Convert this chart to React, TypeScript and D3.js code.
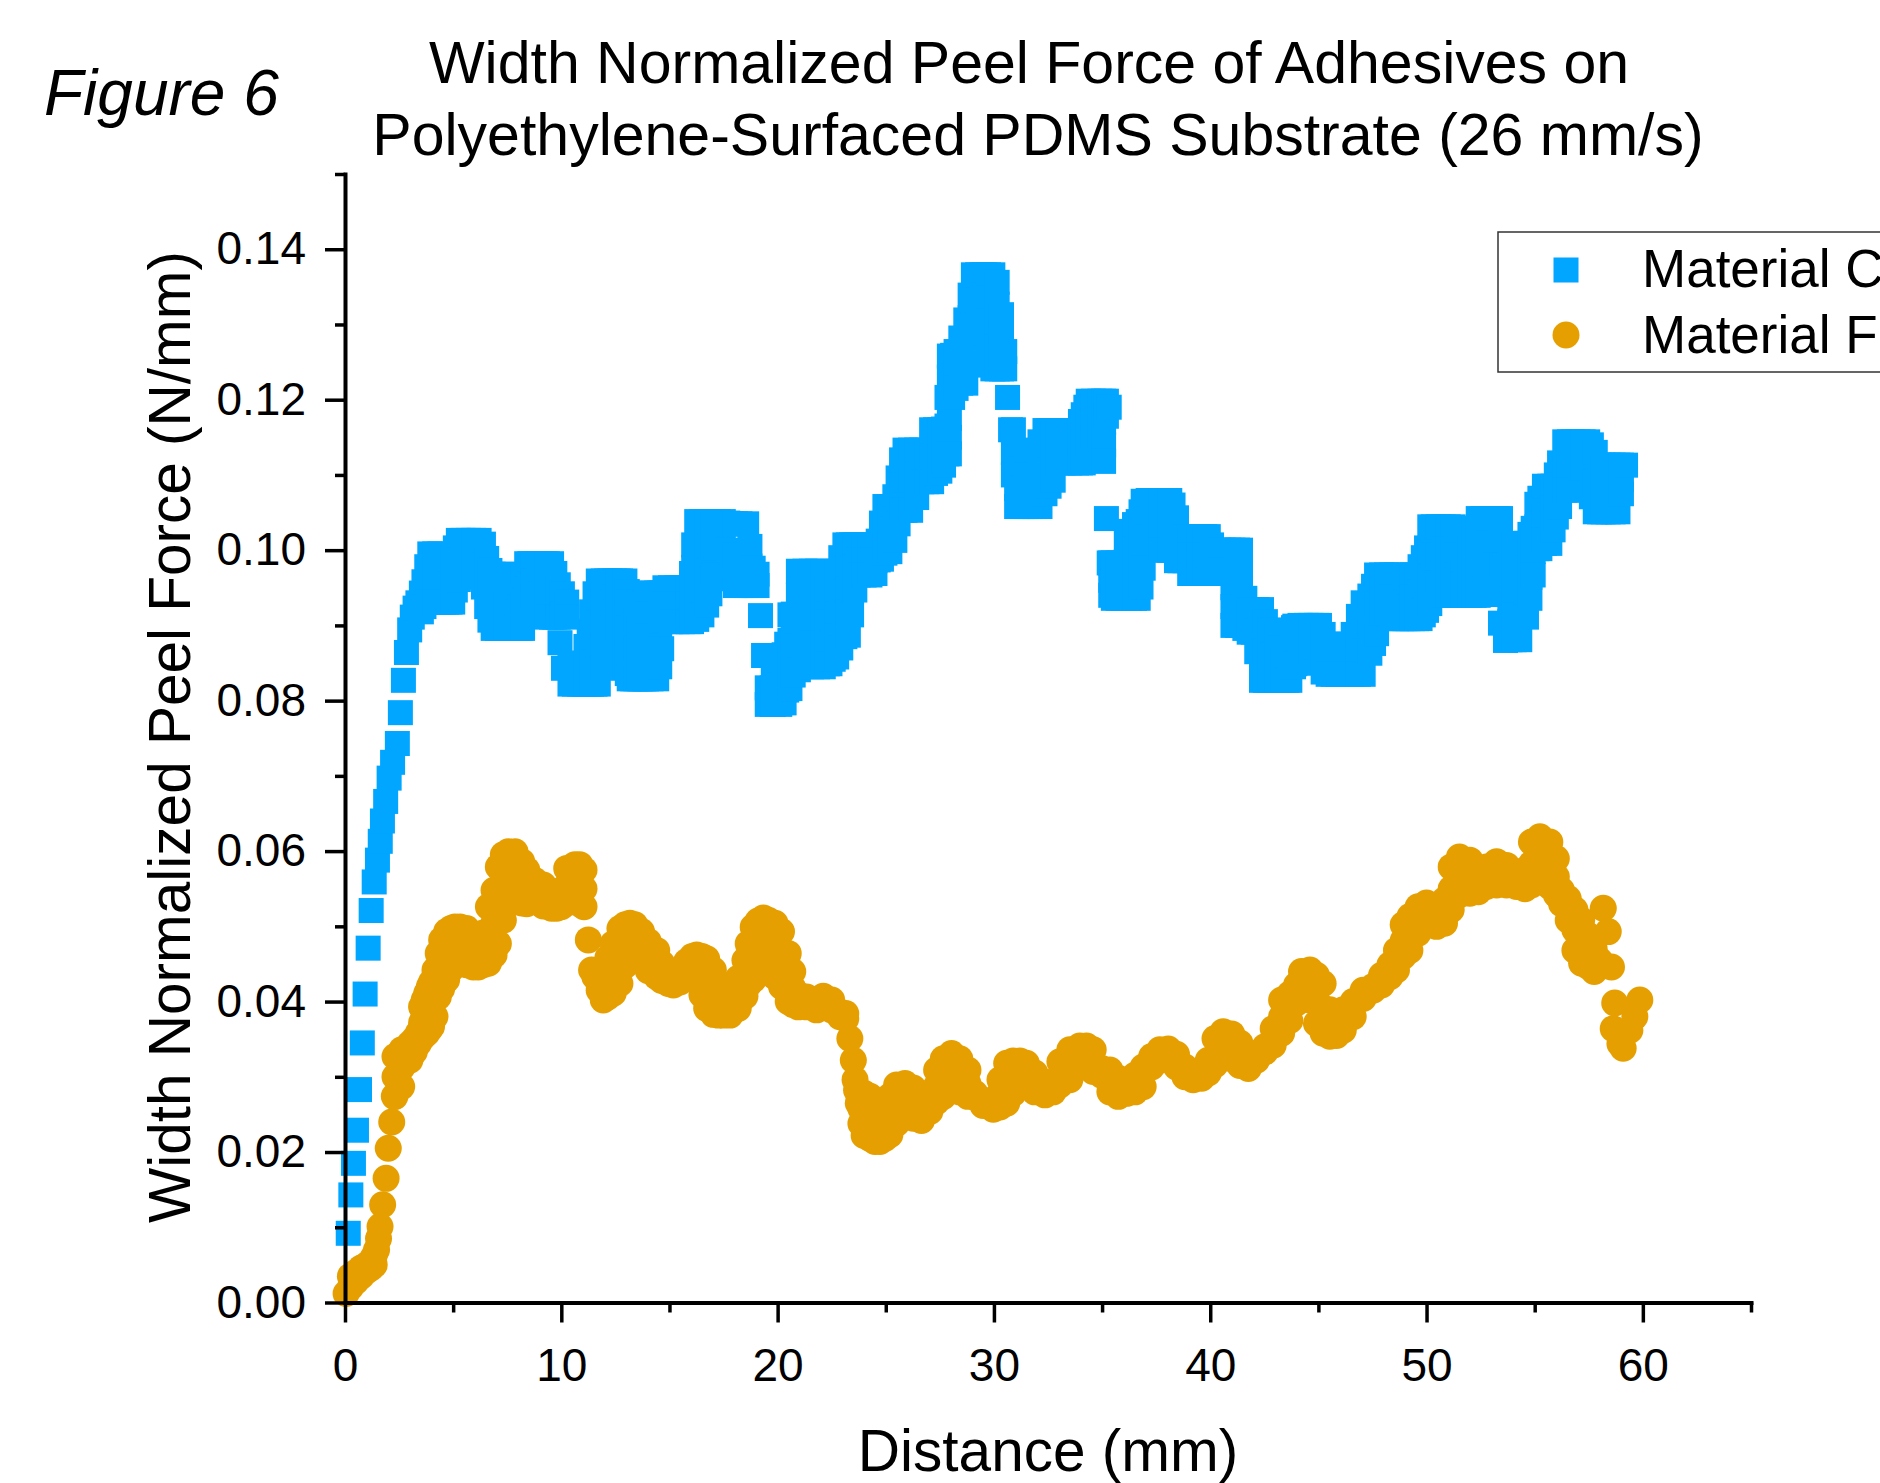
import React, { useRef, useEffect } from "react";
import * as d3 from "d3";

// each row: distance (mm), then the force readings (N/mm) seen at that distance
const materialC: number[][] = [
  [0.15, 0.0092], [0.27, 0.0143], [0.39, 0.0185], [0.53, 0.0229], [0.67, 0.0283],
  [0.8, 0.0345], [0.93, 0.041], [1.07, 0.0471], [1.21, 0.0521], [1.35, 0.0559],
  [1.5, 0.0588], [1.63, 0.0613], [1.73, 0.064], [1.88, 0.0666], [2.04, 0.0697],
  [2.2, 0.0718], [2.42, 0.0743], [2.56, 0.0784], [2.7, 0.0827], [2.84, 0.0864],
  [2.99, 0.0894], [3.11, 0.0911], [3.24, 0.0923], [3.37, 0.093],
  [3.53, 0.0943, 0.0918], [3.65, 0.0958, 0.0925], [3.78, 0.0978, 0.0931],
  [3.92, 0.0995, 0.0963, 0.0931], [4.15, 0.0995, 0.0963, 0.0931], [4.39, 0.0995, 0.0963, 0.0931],
  [4.55, 0.0985, 0.0958, 0.0931], [4.7, 0.0973, 0.0952, 0.0931], [4.85, 0.0979, 0.0955, 0.0931],
  [4.98, 0.0989, 0.096, 0.0931], [5.1, 0.1003, 0.0975, 0.0947], [5.24, 0.1013, 0.0987, 0.0961],
  [5.45, 0.1013, 0.0988, 0.0964], [5.7, 0.1013, 0.0989, 0.0965], [5.95, 0.1013, 0.0989, 0.0965],
  [6.2, 0.1013, 0.0989, 0.0965], [6.4, 0.1008, 0.098, 0.0951], [6.55, 0.0989, 0.0957, 0.0925],
  [6.7, 0.0973, 0.094, 0.0907], [6.85, 0.0968, 0.0944, 0.092, 0.0896],
  [7.05, 0.0968, 0.0944, 0.092, 0.0896], [7.27, 0.0968, 0.0944, 0.092, 0.0896],
  [7.44, 0.0928, 0.0912, 0.0896], [7.6, 0.0937, 0.0916, 0.0896], [7.94, 0.0941, 0.0918, 0.0896],
  [8.1, 0.0955, 0.0925, 0.0896], [8.21, 0.0968, 0.0932, 0.0896], [8.4, 0.0982, 0.0948, 0.0914],
  [8.55, 0.0982, 0.0955, 0.0929], [8.71, 0.0982, 0.0959, 0.0936], [9.01, 0.0982, 0.0962, 0.0942],
  [9.2, 0.0982, 0.096, 0.0938], [9.35, 0.0982, 0.0958, 0.0934, 0.0911],
  [9.55, 0.0982, 0.0958, 0.0934, 0.0911], [9.7, 0.0969, 0.094, 0.0911], [9.86, 0.0954, 0.093, 0.0911],
  [9.94, 0.0877], [10.05, 0.0942, 0.0915], [10.1, 0.0843], [10.25, 0.0931, 0.0911],
  [10.4, 0.0847, 0.0822], [10.6, 0.0847, 0.0822], [10.85, 0.0847, 0.0822], [11.0, 0.085, 0.0822],
  [11.14, 0.0872, 0.0847, 0.0822], [11.29, 0.0892, 0.0857, 0.0822],
  [11.4, 0.0918, 0.0885, 0.0852, 0.0822], [11.56, 0.0942, 0.0912, 0.0882, 0.0852, 0.0822],
  [11.71, 0.0959, 0.0931, 0.0903, 0.0875, 0.0848, 0.0822],
  [11.94, 0.0959, 0.093, 0.0901, 0.0872, 0.0843], [12.1, 0.0959, 0.0926, 0.0892, 0.0858],
  [12.25, 0.0959, 0.0931, 0.0903, 0.0874], [12.48, 0.0959, 0.0938, 0.0918],
  [12.62, 0.0959, 0.0927, 0.0894], [12.74, 0.0959, 0.093, 0.0901, 0.0874],
  [12.94, 0.0959, 0.093, 0.0901, 0.0872, 0.0849], [13.05, 0.0945, 0.0918, 0.089, 0.0863, 0.0836],
  [13.14, 0.0931, 0.0897, 0.0863, 0.0829], [13.3, 0.0923, 0.0892, 0.086, 0.0829],
  [13.45, 0.091, 0.087, 0.0829], [13.6, 0.0894, 0.0862, 0.0829], [13.68, 0.0899, 0.0864, 0.0829],
  [13.82, 0.0928, 0.0895, 0.0862, 0.0829], [13.94, 0.0943, 0.0915, 0.0886, 0.0858, 0.0829],
  [14.15, 0.0943, 0.0915, 0.0886, 0.0858, 0.0829], [14.41, 0.0943, 0.0915, 0.0886, 0.0858, 0.0829],
  [14.55, 0.0943, 0.091, 0.0878, 0.0845], [14.64, 0.0943, 0.0906, 0.0869],
  [14.79, 0.095, 0.0928, 0.0907], [15.05, 0.095, 0.0928, 0.0905], [15.35, 0.095, 0.0928, 0.0905],
  [15.6, 0.095, 0.0928, 0.0905], [15.87, 0.095, 0.0928, 0.0905], [16.02, 0.0969, 0.0937, 0.0905],
  [16.12, 0.1007, 0.0977, 0.0947, 0.0914], [16.26, 0.1038, 0.1006, 0.0974, 0.0941, 0.0908],
  [16.5, 0.1038, 0.1006, 0.0974, 0.0941, 0.0914], [16.72, 0.1038, 0.101, 0.0982, 0.0955, 0.0927],
  [16.87, 0.1038, 0.1005, 0.0973, 0.0942], [17.0, 0.1038, 0.1003, 0.0967],
  [17.25, 0.1038, 0.1003, 0.0967], [17.49, 0.1038, 0.1003, 0.0967], [17.7, 0.1036, 0.1, 0.0965],
  [17.87, 0.1035, 0.0998, 0.0962], [18.05, 0.1035, 0.0994, 0.0953], [18.26, 0.1035, 0.0994, 0.0953],
  [18.57, 0.1035, 0.0994, 0.0953], [18.72, 0.1005, 0.0979, 0.0953], [18.87, 0.0976, 0.0953],
  [19.05, 0.0968, 0.0953], [19.21, 0.0913], [19.35, 0.086],
  [19.52, 0.0817, 0.0795], [19.75, 0.0817, 0.0795], [19.8, 0.0834, 0.081, 0.0795],
  [20.1, 0.0848, 0.0821, 0.0795], [20.3, 0.0861, 0.0828, 0.0797], [20.42, 0.0875, 0.0845, 0.0814],
  [20.57, 0.0914, 0.088, 0.0848, 0.0816], [20.72, 0.0915, 0.0888, 0.0861, 0.0834],
  [20.96, 0.0972, 0.094, 0.0906, 0.0872, 0.0841], [21.26, 0.0972, 0.0944, 0.0917, 0.089, 0.0863],
  [21.57, 0.0972, 0.094, 0.0908, 0.0876, 0.0845], [21.85, 0.0972, 0.094, 0.0908, 0.0876, 0.0845],
  [22.11, 0.0972, 0.094, 0.0908, 0.0876, 0.0845], [22.3, 0.0947, 0.0915, 0.0882, 0.0849],
  [22.42, 0.0905, 0.0877, 0.0849], [22.57, 0.094, 0.0912, 0.0884, 0.0855],
  [22.73, 0.0972, 0.0943, 0.0915, 0.0886, 0.0858], [22.92, 0.099, 0.096, 0.093, 0.09, 0.087],
  [23.11, 0.1007, 0.0976, 0.0945, 0.0915, 0.0885], [23.27, 0.1007, 0.0978, 0.0948, 0.0918, 0.0887],
  [23.42, 0.1007, 0.0976, 0.0945, 0.0914], [23.57, 0.1007, 0.0977, 0.0947],
  [23.73, 0.1007, 0.0987, 0.0967], [24.0, 0.1007, 0.0987, 0.0967], [24.27, 0.1007, 0.0987, 0.0967],
  [24.5, 0.1003, 0.0986, 0.0969], [24.65, 0.1012, 0.0987], [24.8, 0.1036, 0.1012, 0.0988],
  [24.96, 0.1058, 0.1027, 0.0996], [25.19, 0.1058, 0.1028, 0.0998], [25.42, 0.1071, 0.1042, 0.1013],
  [25.57, 0.1096, 0.1065, 0.1035], [25.73, 0.112, 0.1086, 0.1053], [25.89, 0.1133, 0.1093, 0.1053],
  [26.15, 0.1133, 0.1093, 0.1053], [26.43, 0.1133, 0.1101, 0.107], [26.66, 0.1133, 0.1112, 0.1091],
  [26.9, 0.113, 0.111, 0.1091], [27.12, 0.116, 0.1125, 0.1091], [27.3, 0.116, 0.1131, 0.1102],
  [27.5, 0.116, 0.1131, 0.1105], [27.67, 0.1161, 0.1137, 0.1113], [27.83, 0.1203, 0.1165, 0.1128],
  [27.94, 0.1258, 0.123, 0.1203, 0.1175, 0.115, 0.1128], [28.09, 0.1259, 0.1231, 0.1203],
  [28.25, 0.1264, 0.124, 0.1215], [28.47, 0.1282, 0.1252, 0.1222],
  [28.7, 0.1306, 0.1278, 0.125, 0.1222], [28.9, 0.1339, 0.1309, 0.1278, 0.1246],
  [29.05, 0.1366, 0.1332, 0.1298, 0.1264], [29.25, 0.1366, 0.1332, 0.1298, 0.1264],
  [29.45, 0.1366, 0.1335, 0.1304, 0.1272], [29.58, 0.1366, 0.1339, 0.1313, 0.1285, 0.1256],
  [29.75, 0.1366, 0.1335, 0.1305, 0.1275, 0.125], [29.95, 0.1366, 0.1335, 0.1303, 0.1272, 0.1241],
  [30.15, 0.1356, 0.1327, 0.1298, 0.127, 0.1241], [30.35, 0.1313, 0.1289, 0.1265, 0.1241],
  [30.5, 0.1264, 0.1241], [30.63, 0.1203], [30.77, 0.116], [30.9, 0.116, 0.113, 0.11],
  [31.05, 0.1131, 0.1106, 0.1082, 0.1058], [31.3, 0.1133, 0.1108, 0.1083, 0.1058],
  [31.5, 0.112, 0.11, 0.1079, 0.1058], [31.66, 0.11, 0.1079, 0.1058], [31.89, 0.1098, 0.1078, 0.1058],
  [32.13, 0.1144, 0.1115, 0.1086, 0.1058], [32.36, 0.1159, 0.1131, 0.1103, 0.1075],
  [32.55, 0.1159, 0.1133, 0.1107, 0.1085], [32.74, 0.1159, 0.1126, 0.1093],
  [32.95, 0.1159, 0.1137, 0.1116], [33.2, 0.1159, 0.1137, 0.1116], [33.5, 0.1159, 0.1137, 0.1116],
  [33.82, 0.1159, 0.1137, 0.1116], [34.0, 0.1171, 0.1143, 0.1116], [34.13, 0.118, 0.1148, 0.1116],
  [34.25, 0.119, 0.1159, 0.1128], [34.36, 0.1198, 0.117, 0.1143], [34.6, 0.1198, 0.1175, 0.1151],
  [34.9, 0.1198, 0.1175, 0.1151], [35.07, 0.1198, 0.117, 0.114, 0.1118], [35.2, 0.1198, 0.1178, 0.1042],
  [35.33, 0.119, 0.0983], [35.4, 0.0983, 0.096, 0.094], [35.52, 0.0983, 0.096, 0.0936],
  [35.75, 0.0983, 0.096, 0.0936], [35.98, 0.0976, 0.0956, 0.0936],
  [36.12, 0.1009, 0.0985, 0.096, 0.0936], [36.3, 0.1025, 0.0995, 0.0965, 0.0936],
  [36.5, 0.1034, 0.1001, 0.0968, 0.0936], [36.67, 0.1038, 0.1004, 0.097, 0.0936],
  [36.8, 0.1051, 0.1018, 0.0985, 0.0951], [36.9, 0.1065, 0.1036, 0.1006, 0.0976],
  [37.13, 0.1066, 0.1042, 0.1018], [37.35, 0.1066, 0.1044, 0.1022], [37.52, 0.1066, 0.1044, 0.1022],
  [37.72, 0.1066, 0.1033, 0.1], [37.95, 0.1066, 0.1033, 0.1], [38.13, 0.1066, 0.1033, 0.1],
  [38.28, 0.106, 0.103, 0.1], [38.44, 0.1043, 0.1015, 0.0986], [38.6, 0.1016, 0.0986],
  [38.83, 0.1018, 0.0986], [39.05, 0.1018, 0.0993, 0.0969], [39.21, 0.1018, 0.0993, 0.0969],
  [39.5, 0.1018, 0.0993, 0.0969], [39.75, 0.1018, 0.0993, 0.0969], [39.91, 0.1018, 0.0993, 0.0969],
  [40.06, 0.1007, 0.0988, 0.0969], [40.22, 0.0994, 0.0969], [40.4, 0.1, 0.0973],
  [40.6, 0.1, 0.0973], [40.85, 0.1, 0.0973], [41.05, 0.1, 0.0973, 0.095, 0.0925, 0.09],
  [41.26, 0.1, 0.0975, 0.095, 0.0925, 0.09], [41.4, 0.1, 0.0975, 0.095, 0.0925, 0.09],
  [41.6, 0.0936, 0.0916, 0.0896], [41.8, 0.0921, 0.0906, 0.0891], [41.99, 0.0921, 0.0891],
  [42.15, 0.0921, 0.0893, 0.0865], [42.37, 0.0921, 0.0889, 0.0858, 0.0827],
  [42.55, 0.0905, 0.0866, 0.0827], [42.76, 0.0894, 0.086, 0.0827], [43.07, 0.0888, 0.0857, 0.0827],
  [43.25, 0.087, 0.0848, 0.0827], [43.37, 0.0857, 0.0827], [43.55, 0.0861, 0.0827],
  [43.68, 0.0865, 0.0846, 0.0827], [43.85, 0.0897, 0.087, 0.0845], [43.91, 0.0899, 0.0874, 0.0849],
  [44.15, 0.09, 0.0875, 0.085], [44.45, 0.09, 0.0875, 0.085], [44.65, 0.09, 0.0881, 0.0863],
  [44.91, 0.09, 0.0886, 0.0871], [45.05, 0.09, 0.0879, 0.0858], [45.22, 0.0888, 0.0863, 0.0838],
  [45.45, 0.0875, 0.0855, 0.0835], [45.68, 0.0875, 0.0855, 0.0835], [45.92, 0.0875, 0.0855, 0.0835],
  [46.15, 0.085, 0.0835], [46.3, 0.0863, 0.0835], [46.61, 0.0888, 0.0861, 0.0835],
  [46.85, 0.0912, 0.0886, 0.0861, 0.0835], [47.07, 0.093, 0.0898, 0.0866, 0.0835],
  [47.38, 0.0939, 0.0901, 0.0863], [47.55, 0.0952, 0.0914, 0.0876], [47.69, 0.0967, 0.0928, 0.0889],
  [47.92, 0.0967, 0.0941, 0.0916], [48.15, 0.0967, 0.0944, 0.092], [48.4, 0.0967, 0.0938, 0.0909],
  [48.61, 0.0967, 0.0938, 0.0909], [48.85, 0.0967, 0.0938, 0.0909], [49.0, 0.0954, 0.0931, 0.0909],
  [49.15, 0.0941, 0.0925, 0.0909], [49.35, 0.0967, 0.0938, 0.0909], [49.54, 0.0967, 0.0938, 0.0909],
  [49.7, 0.0978, 0.0943, 0.0909], [49.85, 0.099, 0.0952, 0.0914], [50.0, 0.1003, 0.0961, 0.092],
  [50.15, 0.1031, 0.0997, 0.0963, 0.0929], [50.31, 0.1031, 0.0994, 0.0956],
  [50.55, 0.1031, 0.0994, 0.0956], [50.77, 0.1031, 0.1001, 0.097, 0.094],
  [51.0, 0.1031, 0.1001, 0.097, 0.094], [51.23, 0.1031, 0.1001, 0.097, 0.094],
  [51.4, 0.102, 0.0993, 0.0967, 0.094], [51.55, 0.0989, 0.0965, 0.094], [51.7, 0.0971, 0.0955, 0.094],
  [51.85, 0.0989, 0.0965, 0.094], [52.0, 0.1005, 0.0972, 0.094], [52.2, 0.1029, 0.0999, 0.097, 0.094],
  [52.39, 0.1042, 0.1008, 0.0974, 0.094], [52.6, 0.1042, 0.1008, 0.0974, 0.0942],
  [52.8, 0.1042, 0.101, 0.0978, 0.0947], [53.0, 0.1042, 0.101], [53.15, 0.1042, 0.101, 0.098],
  [53.3, 0.1042, 0.0941], [53.42, 0.1042, 0.0903], [53.48, 0.098], [53.65, 0.088],
  [53.85, 0.0995, 0.0965, 0.0935, 0.0905, 0.0881], [54.05, 0.1009, 0.0978, 0.0946, 0.0914, 0.0881],
  [54.31, 0.1009, 0.0978, 0.0946, 0.0914, 0.0881], [54.62, 0.1009, 0.0976, 0.0944, 0.0911],
  [54.78, 0.1021, 0.0993, 0.0964, 0.0936], [54.93, 0.1029, 0.0998, 0.0967],
  [55.1, 0.1061, 0.1031, 0.1002], [55.24, 0.1069, 0.1035, 0.1002], [55.45, 0.1085, 0.1047, 0.1009],
  [55.7, 0.1085, 0.1047, 0.1009], [55.85, 0.1085, 0.1056, 0.1027], [56.0, 0.11, 0.1072, 0.1044],
  [56.15, 0.1116, 0.1087, 0.1058], [56.39, 0.1144, 0.1112, 0.108], [56.6, 0.1144, 0.1112, 0.108],
  [56.78, 0.1144, 0.1112, 0.108], [57.0, 0.1144, 0.1112, 0.108], [57.24, 0.1144, 0.1127, 0.1109],
  [57.45, 0.1144, 0.1127, 0.1109], [57.62, 0.114, 0.1105, 0.1071], [57.8, 0.113, 0.109, 0.1051],
  [58.0, 0.1113, 0.1082, 0.1051], [58.16, 0.1113, 0.1082, 0.1051], [58.4, 0.1113, 0.1082, 0.1051],
  [58.63, 0.1113, 0.1082, 0.1051], [58.85, 0.1113, 0.1082, 0.1051], [59.01, 0.1113, 0.1094, 0.1075],
  [59.2, 0.1113],
];

const materialF: number[][] = [
  [0.05, 0.0012], [0.25, 0.002, 0.0035], [0.5, 0.0028, 0.004], [0.75, 0.0035, 0.0046],
  [1.0, 0.0042, 0.005], [1.2, 0.0046, 0.0055], [1.35, 0.005, 0.0062], [1.46, 0.007],
  [1.55, 0.0085], [1.62, 0.0101], [1.74, 0.013], [1.9, 0.0165], [2.0, 0.0205], [2.16, 0.024],
  [2.28, 0.0274], [2.31, 0.0327, 0.03, 0.0274], [2.62, 0.0336, 0.0312, 0.0287], [3.0, 0.0344, 0.0322],
  [3.2, 0.035, 0.0333], [3.39, 0.0358, 0.0344], [3.54, 0.0393, 0.0372, 0.0351],
  [3.66, 0.0402, 0.038, 0.0355], [3.78, 0.0411, 0.0384, 0.0358], [3.9, 0.042, 0.0392, 0.0363],
  [4.0, 0.0426, 0.0396, 0.0367], [4.16, 0.0442, 0.0411, 0.038], [4.31, 0.0464, 0.0435, 0.0406],
  [4.47, 0.0482, 0.045, 0.0417], [4.7, 0.0493, 0.0461, 0.0429], [4.9, 0.0497, 0.047, 0.0443],
  [5.08, 0.0499, 0.0475, 0.0451], [5.32, 0.0499, 0.0477, 0.0455], [5.62, 0.0497, 0.0473, 0.0449],
  [5.93, 0.0482, 0.0464, 0.0446], [6.16, 0.0462, 0.0446], [6.39, 0.0491, 0.047, 0.0449],
  [6.63, 0.0526, 0.0489, 0.0451], [6.89, 0.0548, 0.0505, 0.0462], [7.09, 0.0579, 0.0546, 0.0512, 0.0477],
  [7.32, 0.0595, 0.0552, 0.0508], [7.55, 0.0599, 0.0565, 0.053], [7.86, 0.0599, 0.0566, 0.0533],
  [8.17, 0.0586, 0.0558, 0.0531], [8.4, 0.0575, 0.0552, 0.053], [8.78, 0.0561, 0.0547, 0.0533],
  [9.17, 0.0555, 0.0527], [9.55, 0.0535, 0.0524], [9.78, 0.0531, 0.0524], [10.0, 0.0548, 0.0526],
  [10.25, 0.0577, 0.0554, 0.0531], [10.63, 0.0582, 0.0557, 0.0533], [10.85, 0.0582, 0.0555, 0.053],
  [11.05, 0.0575, 0.055, 0.0526], [11.25, 0.0482], [11.4, 0.0442], [11.55, 0.0433], [11.75, 0.0415],
  [11.94, 0.0437, 0.0402], [12.15, 0.0458, 0.0432, 0.0406], [12.4, 0.0477, 0.0444, 0.0411],
  [12.71, 0.0497, 0.046, 0.0424], [12.95, 0.0502, 0.0474, 0.0448], [13.17, 0.0504, 0.0477],
  [13.4, 0.0502, 0.0479], [13.71, 0.0493, 0.0455], [14.02, 0.048, 0.0441], [14.41, 0.0468, 0.0433],
  [14.64, 0.0451, 0.0428], [14.95, 0.0431, 0.0424], [15.18, 0.0426, 0.0422], [15.49, 0.0433, 0.0426],
  [15.79, 0.0453, 0.0433], [16.05, 0.046, 0.0438], [16.26, 0.0462, 0.044],
  [16.5, 0.046, 0.0435, 0.0409], [16.72, 0.0457, 0.0424, 0.0391], [17.03, 0.0442, 0.0412, 0.0383],
  [17.26, 0.0415, 0.0382], [17.49, 0.0397, 0.0382], [17.8, 0.0422, 0.0402, 0.0382],
  [18.18, 0.0431, 0.0411, 0.0391], [18.49, 0.0455, 0.0431, 0.0407], [18.64, 0.0477, 0.045, 0.0422],
  [18.87, 0.0499, 0.0464, 0.0429], [19.1, 0.0507, 0.0472, 0.0437], [19.34, 0.0511, 0.0477, 0.0442],
  [19.57, 0.0508, 0.048, 0.0451], [19.88, 0.0504, 0.0469, 0.0433], [20.18, 0.0493, 0.0457, 0.042],
  [20.49, 0.0464, 0.0432, 0.04], [20.7, 0.044, 0.0418, 0.0396], [20.96, 0.0409, 0.0393],
  [21.34, 0.0406, 0.0393], [21.8, 0.0402, 0.0389], [22.11, 0.0407, 0.0393], [22.5, 0.0402, 0.0389],
  [22.88, 0.0386, 0.038], [23.15, 0.0384, 0.0377], [23.34, 0.0351], [23.5, 0.0322], [23.58, 0.0296],
  [23.65, 0.0282], [23.73, 0.0265], [23.85, 0.0278, 0.0258, 0.0238], [24.0, 0.0278, 0.025, 0.0222],
  [24.27, 0.0274, 0.0245, 0.0218], [24.5, 0.0268, 0.024, 0.0214], [24.73, 0.0258, 0.0236, 0.0214],
  [24.96, 0.0249, 0.0233, 0.0218], [25.19, 0.0274, 0.0248, 0.0223], [25.5, 0.0289, 0.0263, 0.0238],
  [25.89, 0.0291, 0.0271, 0.0251], [26.27, 0.0285, 0.0265, 0.0245], [26.65, 0.0262, 0.0242],
  [27.04, 0.0278, 0.0254], [27.35, 0.0309, 0.0288, 0.0267], [27.66, 0.0324, 0.0299, 0.0274],
  [28.04, 0.0331, 0.0312, 0.0293], [28.42, 0.0324, 0.0302, 0.028], [28.8, 0.0309, 0.0291, 0.0274],
  [29.12, 0.0278, 0.0273], [29.5, 0.0269, 0.0262], [29.97, 0.0265, 0.0257],
  [30.28, 0.0296, 0.0278, 0.026], [30.59, 0.0318, 0.0291, 0.0265], [30.89, 0.0321, 0.0299, 0.0278],
  [31.2, 0.0321, 0.0304], [31.5, 0.0318, 0.0298], [31.89, 0.0305, 0.028], [32.36, 0.0293, 0.0276],
  [32.74, 0.0287, 0.028], [33.05, 0.032, 0.0289], [33.51, 0.0336, 0.0316, 0.0296],
  [33.97, 0.0341, 0.0318], [34.28, 0.0341, 0.032], [34.59, 0.0336, 0.0307], [34.98, 0.0311, 0.0302],
  [35.36, 0.0309, 0.028], [35.75, 0.0298, 0.0274], [36.13, 0.0282, 0.0278], [36.52, 0.0302, 0.028],
  [36.9, 0.0313, 0.0287], [37.29, 0.0327, 0.0313], [37.67, 0.0336, 0.0322], [38.06, 0.0337, 0.0324],
  [38.44, 0.033, 0.0313], [38.83, 0.0313, 0.03], [39.21, 0.0302, 0.0296], [39.6, 0.0309, 0.0298],
  [39.91, 0.0322, 0.0305], [40.22, 0.0351, 0.0316], [40.6, 0.036, 0.0327], [40.99, 0.0357, 0.0324],
  [41.37, 0.0345, 0.0315], [41.76, 0.0327, 0.0311], [42.14, 0.0331, 0.0322], [42.53, 0.034, 0.0333],
  [42.91, 0.0364, 0.0342], [43.3, 0.0402, 0.038, 0.0358], [43.68, 0.041, 0.0392, 0.0375],
  [43.99, 0.0422, 0.0398], [44.22, 0.044, 0.0407], [44.61, 0.0442, 0.0402],
  [44.91, 0.0435, 0.0403, 0.0371], [45.22, 0.0424, 0.0391, 0.0358], [45.53, 0.0389, 0.0354],
  [45.84, 0.0375, 0.0355], [46.15, 0.0389, 0.0362], [46.61, 0.04, 0.038], [47.07, 0.0415, 0.0404],
  [47.53, 0.042, 0.0415], [47.92, 0.0435, 0.0422], [48.31, 0.0449, 0.0433], [48.61, 0.0468, 0.0442],
  [48.92, 0.0502, 0.0481, 0.046], [49.23, 0.0513, 0.049, 0.0468], [49.61, 0.0526, 0.0491],
  [50.0, 0.0531, 0.0508], [50.46, 0.0528, 0.05], [50.83, 0.0535, 0.0504],
  [51.14, 0.0579, 0.055, 0.0522], [51.52, 0.0592, 0.0567, 0.0542], [52.0, 0.0588, 0.0566, 0.0544],
  [52.39, 0.0561, 0.0546], [52.77, 0.0579, 0.0553], [53.24, 0.0586, 0.0555], [53.7, 0.0581, 0.0555],
  [54.16, 0.0568, 0.0553], [54.55, 0.0575, 0.055], [54.85, 0.0612, 0.0583, 0.0555],
  [55.24, 0.0619, 0.0592, 0.0566], [55.7, 0.0612, 0.0582, 0.0553], [56.0, 0.059, 0.0566, 0.0542],
  [56.24, 0.0548, 0.053], [56.55, 0.0537, 0.0508], [56.86, 0.0522, 0.0495, 0.0468],
  [57.17, 0.0508, 0.048, 0.0451], [57.47, 0.0488, 0.0467, 0.0447], [57.75, 0.047, 0.044],
  [58.0, 0.0455], [58.17, 0.0524], [58.4, 0.0493], [58.55, 0.0446], [58.63, 0.0364], [58.7, 0.0398],
  [58.94, 0.0344], [59.09, 0.0338], [59.4, 0.0362], [59.63, 0.038], [59.86, 0.0402],
];

const xMajorTicks = [0, 10, 20, 30, 40, 50, 60];
const xMinorTicks = [5, 15, 25, 35, 45, 55, 65];
const yMajorTicks = [0, 0.02, 0.04, 0.06, 0.08, 0.1, 0.12, 0.14];
const yMinorTicks = [0.01, 0.03, 0.05, 0.07, 0.09, 0.11, 0.13, 0.15];
const seriesNames = ["Material C", "Material F"];
const seriesColors = ["#00a6ff", "#e69f00"];
const titleLines = [
  "Width Normalized Peel Force of Adhesives on",
  "Polyethylene-Surfaced PDMS Substrate (26 mm/s)",
];

const FONT = "'Liberation Sans', Arial, Helvetica, sans-serif";

function toPoints(rows: number[][]) {
  return rows.flatMap(([d, ...vs]) => vs.map((v) => [d, v]));
}

function App() {
  const chart = useRef<SVGSVGElement>(null);

  useEffect(() => {
    const svg = d3.select(chart.current);
    svg.selectAll("*").remove();

    const x = d3.scaleLinear().domain([0, 65]).range([345, 1751]);
    const y = d3.scaleLinear().domain([0, 0.15]).range([1302.5, 174]);

    svg.append("rect").attr("width", 1880).attr("height", 1483).attr("fill", "white");

    // Material C squares first, Material F circles on top
    svg
      .append("g")
      .selectAll("rect")
      .data(toPoints(materialC))
      .join("rect")
      .attr("x", (d) => x(d[0]) - 12.5)
      .attr("y", (d) => y(d[1]) - 12.5)
      .attr("width", 25)
      .attr("height", 25)
      .attr("fill", seriesColors[0]);

    svg
      .append("g")
      .selectAll("circle")
      .data(toPoints(materialF))
      .join("circle")
      .attr("cx", (d) => x(d[0]))
      .attr("cy", (d) => y(d[1]))
      .attr("r", 13.5)
      .attr("fill", seriesColors[1]);

    const styleAxis = (g) => {
      g.attr("font-family", FONT).attr("font-size", 46);
      g.select(".domain").attr("stroke-width", 4).attr("stroke-linecap", "square");
      g.selectAll(".tick line").attr("stroke-width", 3.5);
      g.selectAll(".tick text").attr("fill", "#000");
    };

    // y axis
    svg
      .append("g")
      .attr("transform", "translate(345,0)")
      .call(d3.axisLeft(y).tickValues(yMinorTicks).tickSize(10).tickSizeOuter(0).tickFormat(() => ""))
      .call((g) => g.select(".domain").remove())
      .call(styleAxis);
    svg
      .append("g")
      .attr("transform", "translate(345,0)")
      .call(
        d3.axisLeft(y).tickValues(yMajorTicks).tickSize(20).tickSizeOuter(0).tickPadding(19)
          .tickFormat(d3.format(".2f"))
      )
      .call(styleAxis);

    // x axis
    svg
      .append("g")
      .attr("transform", "translate(0,1302.5)")
      .call(d3.axisBottom(x).tickValues(xMinorTicks).tickSize(10).tickSizeOuter(0).tickFormat(() => ""))
      .call((g) => g.select(".domain").remove())
      .call(styleAxis);
    svg
      .append("g")
      .attr("transform", "translate(0,1302.5)")
      .call(d3.axisBottom(x).tickValues(xMajorTicks).tickSize(20).tickSizeOuter(0).tickPadding(26)
        .tickFormat(d3.format("d")))
      .call(styleAxis);

    const text = (tx, ty, str, size, anchor = "middle") =>
      svg
        .append("text")
        .attr("x", tx)
        .attr("y", ty)
        .attr("text-anchor", anchor)
        .attr("font-family", FONT)
        .attr("font-size", size)
        .attr("fill", "#000")
        .text(str);

    // titles
    text(1029, 83, titleLines[0], 59);
    text(1038, 155, titleLines[1], 59);
    text(44, 115, "Figure 6", 64, "start").attr("font-style", "italic");

    // axis titles
    text(1048, 1471, "Distance (mm)", 58.5);
    text(0, 0, "Width Normalized Peel Force (N/mm)", 58.5).attr(
      "transform",
      "translate(190,737) rotate(-90)"
    );

    // legend (runs past the right edge, as in the original figure)
    const legend = svg.append("g");
    legend
      .append("rect")
      .attr("x", 1498)
      .attr("y", 232)
      .attr("width", 420)
      .attr("height", 140)
      .attr("fill", "white")
      .attr("stroke", "#333")
      .attr("stroke-width", 1.5);
    legend
      .append("rect")
      .attr("x", 1566 - 12.5)
      .attr("y", 270 - 12.5)
      .attr("width", 25)
      .attr("height", 25)
      .attr("fill", seriesColors[0]);
    legend
      .append("circle")
      .attr("cx", 1566)
      .attr("cy", 335)
      .attr("r", 13.5)
      .attr("fill", seriesColors[1]);
    text(1642, 287, seriesNames[0], 53, "start");
    text(1642, 353, seriesNames[1], 53, "start");
  }, []);

  return (
    <svg
      ref={chart}
      width={1880}
      height={1483}
      style={{ position: "absolute", left: 0, top: 0, display: "block" }}
    ></svg>
  );
}

export default App;
